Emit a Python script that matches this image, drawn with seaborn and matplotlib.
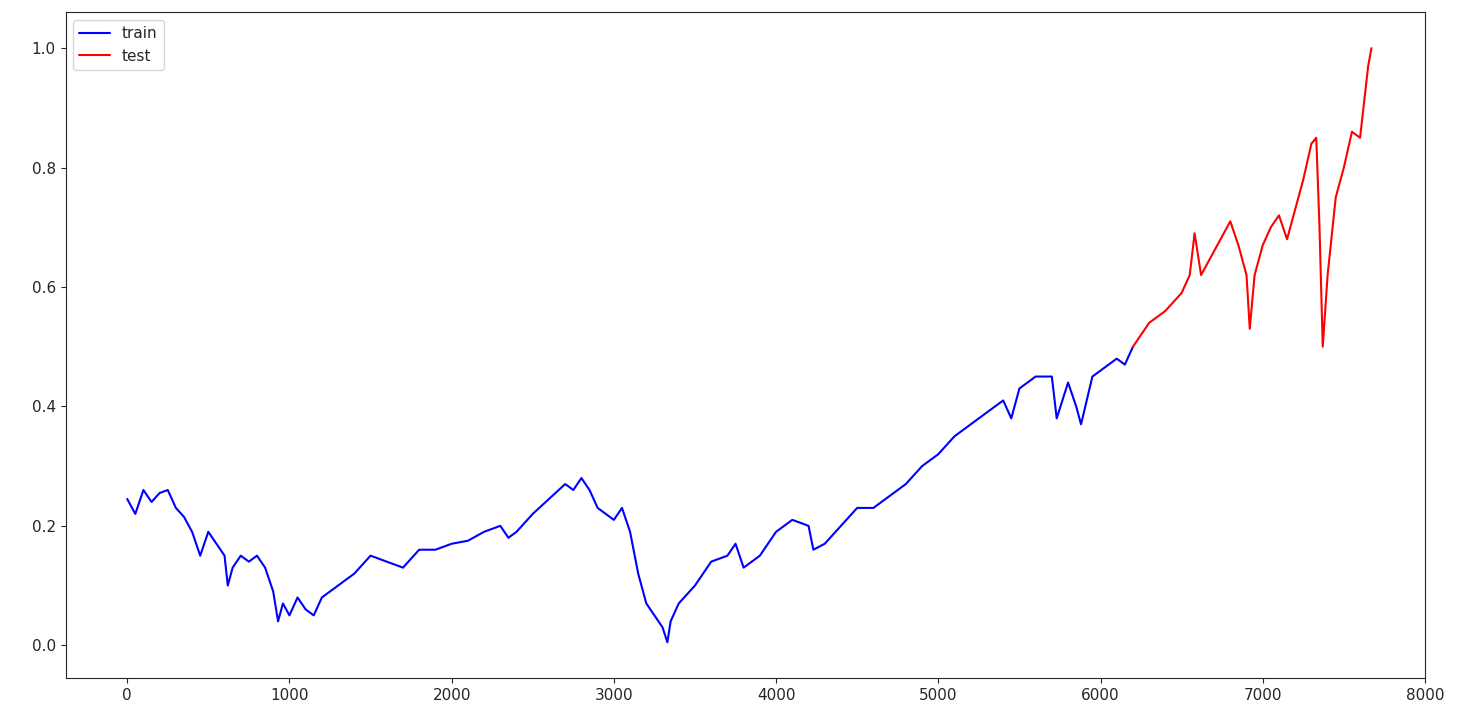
import numpy as np
import pandas as pd
import matplotlib
matplotlib.use("Agg")
import matplotlib.pyplot as plt
import seaborn as sns

# values (index, scaled price)
train_idx = [0, 50, 100, 150, 200, 250, 300, 350, 400, 450, 500, 550, 600, 620, 650, 700, 750, 800,
             850, 900, 930, 960, 1000, 1050, 1100, 1150, 1200, 1300, 1400, 1500, 1600, 1700, 1800,
             1900, 2000, 2100, 2200, 2300, 2350, 2400, 2500, 2600, 2700, 2750, 2800, 2850, 2900,
             3000, 3050, 3100, 3150, 3200, 3250, 3300, 3330, 3350, 3400, 3500, 3600, 3700, 3750,
             3800, 3850, 3900, 4000, 4100, 4200, 4230, 4300, 4400, 4500, 4600, 4700, 4800, 4900,
             5000, 5100, 5200, 5300, 5400, 5450, 5500, 5600, 5700, 5730, 5800, 5850, 5880, 5950,
             6000, 6100, 6150, 6200]
train_val = [0.245, 0.22, 0.26, 0.24, 0.255, 0.26, 0.23, 0.215, 0.19, 0.15, 0.19, 0.17, 0.15, 0.10,
             0.13, 0.15, 0.14, 0.15, 0.13, 0.09, 0.04, 0.07, 0.05, 0.08, 0.06, 0.05, 0.08, 0.10,
             0.12, 0.15, 0.14, 0.13, 0.16, 0.16, 0.17, 0.175, 0.19, 0.20, 0.18, 0.19, 0.22, 0.245,
             0.27, 0.26, 0.28, 0.26, 0.23, 0.21, 0.23, 0.19, 0.12, 0.07, 0.05, 0.03, 0.005, 0.04,
             0.07, 0.10, 0.14, 0.15, 0.17, 0.13, 0.14, 0.15, 0.19, 0.21, 0.20, 0.16, 0.17, 0.20,
             0.23, 0.23, 0.25, 0.27, 0.30, 0.32, 0.35, 0.37, 0.39, 0.41, 0.38, 0.43, 0.45, 0.45,
             0.38, 0.44, 0.40, 0.37, 0.45, 0.46, 0.48, 0.47, 0.50]
test_idx = [6200, 6300, 6400, 6500, 6550, 6580, 6620, 6700, 6800, 6850, 6900, 6920, 6950, 7000,
            7050, 7100, 7150, 7200, 7250, 7300, 7330, 7350, 7370, 7400, 7450, 7500, 7550, 7600,
            7650, 7670]
test_val = [0.50, 0.54, 0.56, 0.59, 0.62, 0.69, 0.62, 0.66, 0.71, 0.67, 0.62, 0.53, 0.62, 0.67,
            0.70, 0.72, 0.68, 0.73, 0.78, 0.84, 0.85, 0.70, 0.50, 0.62, 0.75, 0.80, 0.86, 0.85,
            0.97, 1.00]

sns.set_style("ticks")
fig, ax = plt.subplots(figsize=(14.57, 7.26), dpi=100)
sns.lineplot(x=train_idx, y=train_val, color="blue", label="train", ax=ax, linewidth=1.5)
sns.lineplot(x=test_idx, y=test_val, color="red", label="test", ax=ax, linewidth=1.5)
ax.set_xlim(-380, 8000)
ax.set_ylim(-0.055, 1.06)
ax.set_xticks(range(0, 8001, 1000))
ax.set_yticks([0.0, 0.2, 0.4, 0.6, 0.8, 1.0])
ax.tick_params(labelsize=11)
ax.legend(loc="upper left", fontsize=11)
plt.subplots_adjust(left=0.045, right=0.978, top=0.983, bottom=0.066)
plt.savefig("out.png")
